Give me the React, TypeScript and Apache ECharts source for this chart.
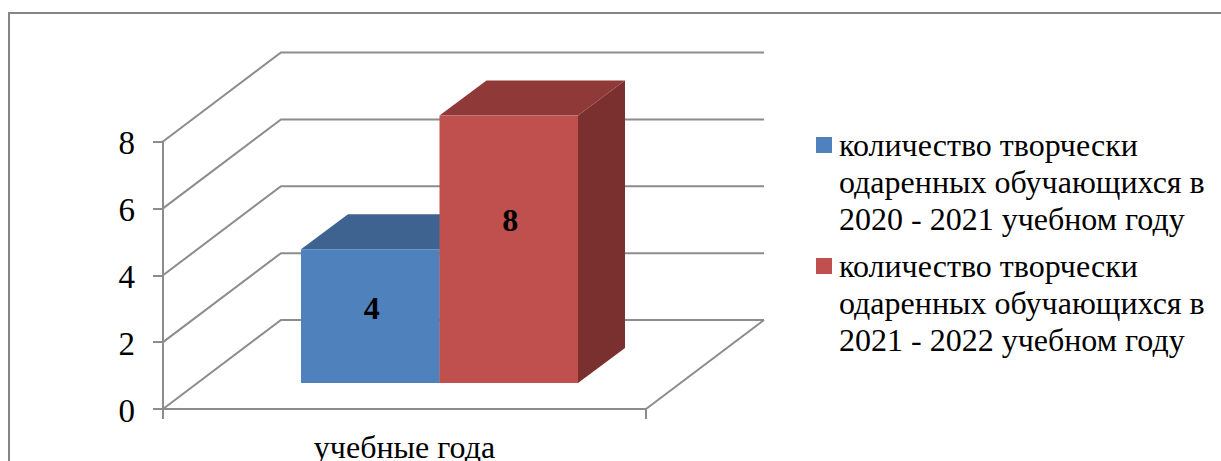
import React, { useEffect, useRef } from "react";
import * as echarts from "echarts";

const categories = ["учебные года"];
const yTicks = [0, 2, 4, 6, 8];
const seriesNames = [
  "количество творчески\nодаренных обучающихся в\n2020 - 2021 учебном году",
  "количество творчески\nодаренных обучающихся в\n2021 - 2022 учебном году",
];
const values2020 = [4];
const values2021 = [8];

const GRAY = "#8c8c8c";
const FONT = '"Liberation Serif", "Times New Roman", serif';
const WALL = { dx: 118, dy: -89 };
const BAR = { start: 35, dy: -26, width: 138.5, dx: 47, dz: -35 };

const wallItem = (params: any, api: any) => {
  const cs = params.coordSys;
  const p = api.coord([0, api.value(1)]);
  const left = cs.x;
  const right = cs.x + cs.width;
  const y = p[1];
  const style = { stroke: GRAY, lineWidth: 2, fill: "none" };
  const children: any[] = [
    {
      type: "polyline",
      shape: {
        points: [
          [left, y],
          [left + WALL.dx, y + WALL.dy],
          [right + WALL.dx, y + WALL.dy],
        ],
      },
      style,
    },
  ];
  if (api.value(1) === 0) {
    children.push({
      type: "line",
      shape: { x1: right, y1: y, x2: right + WALL.dx, y2: y + WALL.dy },
      style,
    });
    children.push({ type: "line", shape: { x1: left, y1: y, x2: left, y2: y + 10 }, style });
    children.push({ type: "line", shape: { x1: right, y1: y, x2: right, y2: y + 10 }, style });
  }
  return { type: "group", children };
};

const barItem = (index: number, front: string, top: string, side: string) => (params: any, api: any) => {
  const cs = params.coordSys;
  const v = api.value(1);
  const zero = api.coord([0, 0])[1];
  const head = api.coord([0, v])[1];
  const x0 = cs.x + BAR.start + (cs.width - BAR.width * 2) / 2 + BAR.width * index;
  const x1 = x0 + BAR.width;
  const y0 = head + BAR.dy;
  const y1 = zero + BAR.dy;
  return {
    type: "group",
    children: [
      {
        type: "polygon",
        shape: { points: [[x1, y0], [x1 + BAR.dx, y0 + BAR.dz], [x1 + BAR.dx, y1 + BAR.dz], [x1, y1]] },
        style: { fill: side },
      },
      {
        type: "polygon",
        shape: { points: [[x0, y0], [x0 + BAR.dx, y0 + BAR.dz], [x1 + BAR.dx, y0 + BAR.dz], [x1, y0]] },
        style: { fill: top },
      },
      { type: "rect", shape: { x: x0, y: y0, width: BAR.width, height: y1 - y0 }, style: { fill: front } },
      {
        type: "text",
        x: (x0 + x1) / 2 + 1.5,
        y: y1 - (y1 - y0) * 0.662 + 14,
        style: {
          text: String(v),
          fill: "#000",
          font: `bold 32px ${FONT}`,
          align: "center",
          verticalAlign: "middle",
        },
      },
    ],
  };
};

export default function App() {
  const ref = useRef<HTMLDivElement>(null);
  useEffect(() => {
    const chart = echarts.init(ref.current!, undefined, { renderer: "svg" });
    chart.setOption({
      animation: false,
      backgroundColor: "#fff",
      grid: { left: 163, top: 141.5, width: 483, height: 267.5, containLabel: false, outerBoundsMode: "none" },
      xAxis: {
        type: "category",
        data: categories,
        axisLine: { lineStyle: { color: GRAY, width: 2 } },
        axisTick: { show: false },
        axisLabel: { color: "#000", fontFamily: FONT, fontSize: 32, margin: 22 },
      },
      yAxis: {
        type: "value",
        min: 0,
        max: 8,
        interval: 2,
        splitLine: { show: false },
        axisLine: { show: true, lineStyle: { color: GRAY, width: 2 } },
        axisTick: { show: true, length: 10, lineStyle: { color: GRAY, width: 2 } },
        axisLabel: {
          color: "#000",
          fontFamily: FONT,
          fontSize: 33,
          margin: 28,
          verticalAlign: "top",
          padding: [-15, 0, 0, 0],
        },
      },
      legend: {
        orient: "vertical",
        left: 816,
        top: 52.5,
        padding: 0,
        icon: "rect",
        itemWidth: 16,
        itemHeight: 16,
        itemGap: -64,
        selectedMode: false,
        data: seriesNames,
        formatter: (name: string) => "\n\n" + name,
        textStyle: {
          color: "#000",
          fontFamily: FONT,
          fontSize: 32,
          lineHeight: 37,
          padding: [0, 0, 0, 2],
        },
      },
      graphic: [
        {
          type: "polyline",
          silent: true,
          shape: { points: [[9, 461], [9, 13], [1221, 13]] },
          style: { stroke: "#868686", lineWidth: 2, fill: "none" },
        },
      ],
      series: [
        {
          type: "custom",
          name: "walls",
          silent: true,
          clip: false,
          z: 1,
          data: yTicks.map((t) => [0, t]),
          encode: { x: 0, y: 1 },
          renderItem: wallItem,
        },
        {
          type: "custom",
          name: seriesNames[0],
          silent: true,
          clip: false,
          z: 3,
          itemStyle: { color: "#4F81BD" },
          data: values2020.map((v, i) => [i, v]),
          encode: { x: 0, y: 1 },
          renderItem: barItem(0, "#4F81BD", "#3E6390", "#375A82"),
        },
        {
          type: "custom",
          name: seriesNames[1],
          silent: true,
          clip: false,
          z: 4,
          itemStyle: { color: "#C0504D" },
          data: values2021.map((v, i) => [i, v]),
          encode: { x: 0, y: 1 },
          renderItem: barItem(1, "#C0504D", "#8F3A38", "#7A302E"),
        },
      ],
    });
    return () => chart.dispose();
  }, []);
  return <div ref={ref} style={{ position: "absolute", left: 0, top: 0, width: 1221, height: 461 }} />;
}
